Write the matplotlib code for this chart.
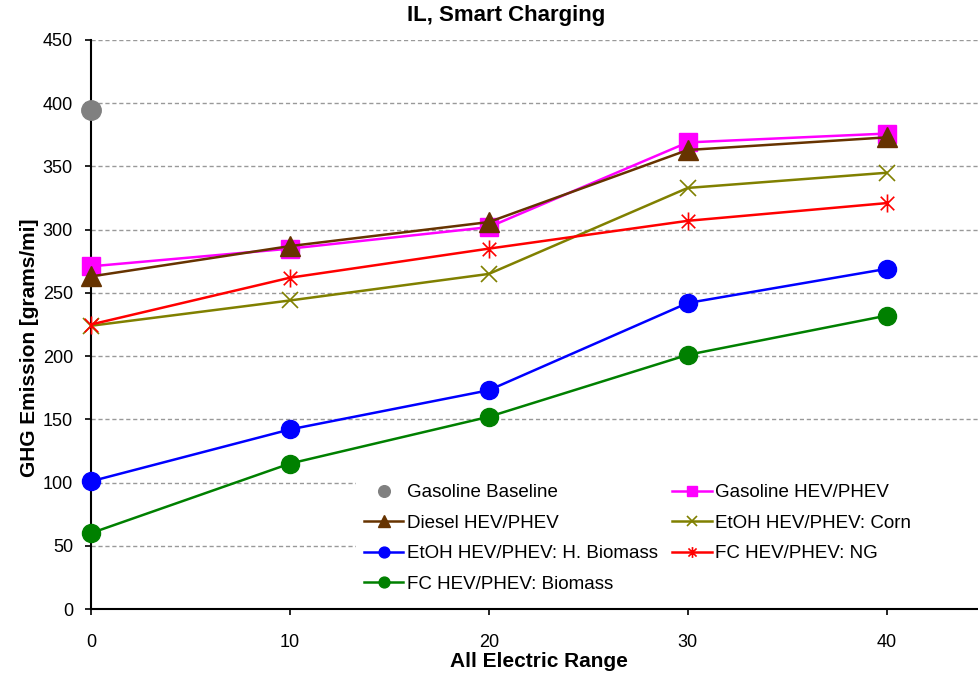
import matplotlib.pyplot as plt
import numpy as np
from matplotlib.path import Path
from matplotlib.patches import Rectangle

plt.rcParams['font.family'] = ['Liberation Sans', 'DejaVu Sans']

# data
aer = [0, 10, 20, 30, 40]
baseline_x = [0]
baseline = [395]
gas_hev = [271, 285, 302, 369, 376]
diesel_hev = [263, 287, 306, 363, 373]
etoh_corn = [224, 244, 265, 333, 345]
etoh_biomass = [101, 142, 173, 242, 269]
fc_ng = [225, 262, 285, 307, 321]
fc_biomass = [60, 115, 152, 201, 232]

# Excel style asterisk: an x with a vertical bar through it
star = Path([(0, -1), (0, 1), (-0.75, -0.75), (0.75, 0.75), (-0.75, 0.75), (0.75, -0.75)],
            [Path.MOVETO, Path.LINETO, Path.MOVETO, Path.LINETO, Path.MOVETO, Path.LINETO])

fig = plt.figure(figsize=(9.79, 6.76), dpi=100)
ax = fig.add_axes([91 / 979, 67 / 676, 895 / 979, 569 / 676])

lw = 1.8
kw = dict(clip_on=False, zorder=3)
ax.plot(baseline_x, baseline, 'o', color='#808080', ms=14, ls='none',
        label='Gasoline Baseline', **kw)
ax.plot(aer, gas_hev, '-s', color='#ff00ff', lw=lw, ms=13,
        label='Gasoline HEV/PHEV', **kw)
ax.plot(aer, diesel_hev, '-^', color='#663300', lw=lw, ms=14,
        label='Diesel HEV/PHEV', **kw)
ax.plot(aer, etoh_corn, '-x', color='#808000', lw=lw, ms=12, mew=1.2,
        label='EtOH HEV/PHEV: Corn', **kw)
ax.plot(aer, etoh_biomass, '-o', color='#0000ff', lw=lw, ms=13,
        label='EtOH HEV/PHEV: H. Biomass', **kw)
ax.plot(aer, fc_ng, '-', marker=star, color='#ff0000', lw=lw, ms=13, mew=1.2,
        label='FC HEV/PHEV: NG', **kw)
ax.plot(aer, fc_biomass, '-o', color='#008000', lw=lw, ms=13,
        label='FC HEV/PHEV: Biomass', **kw)

ax.set_xlim(0, 45)
ax.set_ylim(0, 450)
ax.set_xticks([0, 10, 20, 30, 40])
ax.set_yticks(np.arange(0, 451, 50))
ax.tick_params(labelsize=13, direction='out', length=4, width=1.2, colors='black')
ax.tick_params(axis='x', pad=14)
ax.tick_params(axis='y', pad=9)
ax.yaxis.grid(True, ls=(0, (3, 2)), color='#999999', lw=1)
ax.set_axisbelow(True)
for s in ['top', 'right']:
    ax.spines[s].set_visible(False)
for s in ['left', 'bottom']:
    ax.spines[s].set_linewidth(1.5)

fig.text(506 / 979, 1 - 16 / 676, 'IL, Smart Charging', fontsize=16, fontweight='bold',
         ha='center', va='center')
ax.set_xlabel('All Electric Range', fontsize=15, fontweight='bold', labelpad=1)
ax.set_ylabel('GHG Emission [grams/mi]', fontsize=15, fontweight='bold')
ax.yaxis.set_label_coords(-0.058, 0.46)

# white block behind the legend hides the grid there
ax.add_patch(Rectangle((356 / 979, 70 / 676), 0.7, 145 / 676, transform=fig.transFigure,
                       facecolor='white', edgecolor='none', zorder=1))

# legend order matches the reference: row-wise two columns
h, l = ax.get_legend_handles_labels()
order = [0, 2, 4, 6, 1, 3, 5]
leg = ax.legend([h[i] for i in order], [l[i] for i in order], ncol=2,
                loc='upper left', bbox_to_anchor=(364 / 979, 1 - 484 / 676),
                bbox_transform=fig.transFigure, fontsize=13.5, frameon=False,
                markerscale=0.6, handlelength=2.1, handletextpad=0.2,
                columnspacing=0.75, labelspacing=0.72, borderpad=0.0, borderaxespad=0)
leg.set_zorder(5)

fig.savefig('out.png', dpi=100)
